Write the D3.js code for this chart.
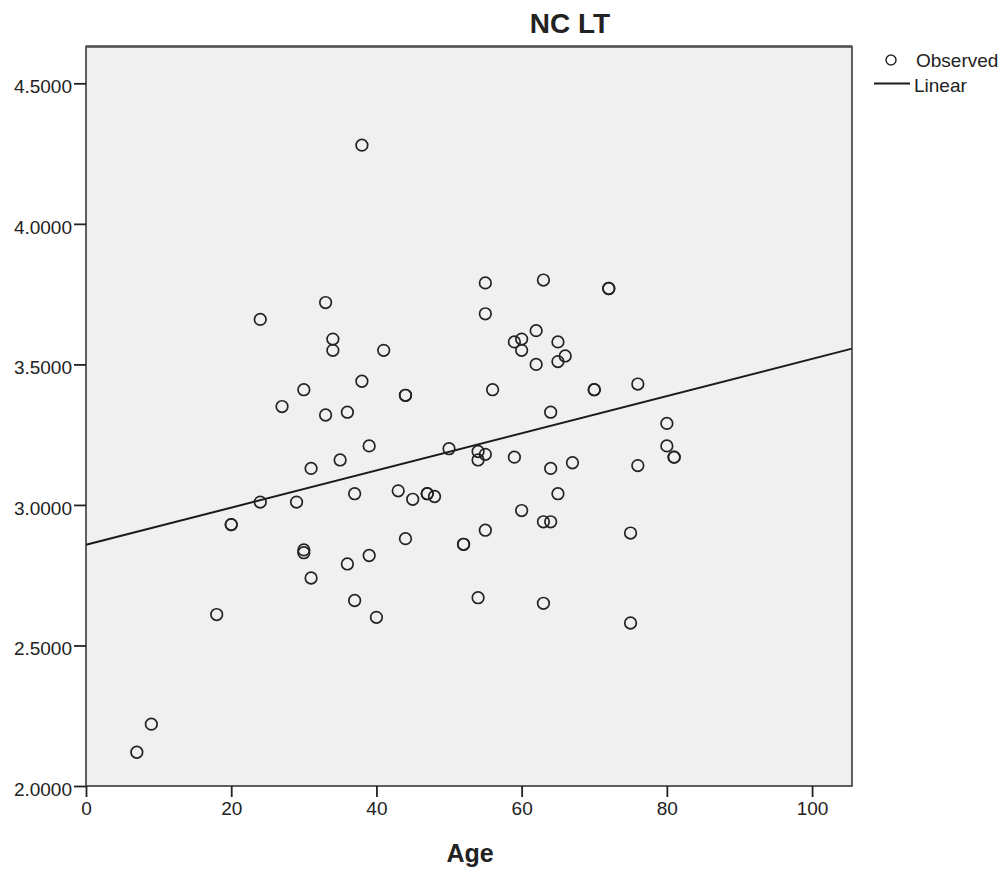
<!DOCTYPE html>
<html>
<head>
<meta charset="utf-8">
<script src="https://cdn.jsdelivr.net/npm/d3@7"></script>
<style>
  html, body { margin: 0; padding: 0; background: #ffffff; }
  svg { display: block; }
  text { font-family: "Liberation Sans", Arial, sans-serif; fill: #222; }
</style>
</head>
<body>
<svg id="chart" width="1007" height="872"></svg>
<script>
// ---- Data ----
const ages = [7, 9, 18, 20, 20, 24, 24, 27, 29, 30, 30, 30, 31, 31, 33, 33, 34, 34, 35, 36, 36, 37, 37, 38, 38, 39, 39, 40, 41, 43, 44, 44, 44, 45, 47, 47, 48, 50, 52, 52, 54, 54, 54, 55, 55, 55, 55, 56, 59, 59, 60, 60, 60, 62, 62, 63, 63, 63, 64, 64, 64, 65, 65, 65, 66, 67, 70, 70, 72, 72, 75, 75, 76, 76, 80, 80, 81, 81];
const ncLT = [2.12, 2.22, 2.61, 2.93, 2.93, 3.66, 3.01, 3.35, 3.01, 3.41, 2.84, 2.83, 3.13, 2.74, 3.72, 3.32, 3.59, 3.55, 3.16, 3.33, 2.79, 3.04, 2.66, 4.28, 3.44, 3.21, 2.82, 2.60, 3.55, 3.05, 3.39, 3.39, 2.88, 3.02, 3.04, 3.04, 3.03, 3.20, 2.86, 2.86, 3.19, 3.16, 2.67, 3.79, 3.68, 3.18, 2.91, 3.41, 3.58, 3.17, 3.59, 3.55, 2.98, 3.62, 3.50, 3.80, 2.94, 2.65, 3.33, 3.13, 2.94, 3.58, 3.51, 3.04, 3.53, 3.15, 3.41, 3.41, 3.77, 3.77, 2.90, 2.58, 3.43, 3.14, 3.29, 3.21, 3.17, 3.17];
// Linear fit line endpoints
const fitX = [0, 105.5];
const fitY = [2.858, 3.556];
const xTicks = [0, 20, 40, 60, 80, 100];
const yTicks = [2.0, 2.5, 3.0, 3.5, 4.0, 4.5];
const xDomain = [0, 105.5];
const yDomain = [2.0, 4.631];
const titleText = "NC LT";
const xLabel = "Age";
const legendLabels = ["Observed", "Linear"];

// ---- Layout ----
const svg = d3.select("#chart");
const L = 86, R = 852, T = 46.5, B = 786;

const x = d3.scaleLinear().domain(xDomain).range([L, R]);
const y = d3.scaleLinear().domain(yDomain).range([B, T]);

// plot background
svg.append("rect")
  .attr("x", L).attr("y", T)
  .attr("width", R - L).attr("height", B - T)
  .attr("fill", "#f0f0f0")
  .attr("stroke", "none");

// regression line
svg.append("line")
  .attr("x1", x(fitX[0])).attr("y1", y(fitY[0]))
  .attr("x2", x(fitX[1])).attr("y2", y(fitY[1]))
  .attr("stroke", "#1a1a1a").attr("stroke-width", 2);

// points
svg.append("g").selectAll("circle")
  .data(ages.map((a, i) => [a, ncLT[i]]))
  .join("circle")
  .attr("cx", d => x(d[0]))
  .attr("cy", d => y(d[1]))
  .attr("r", 5.8)
  .attr("fill", "none")
  .attr("stroke", "#222")
  .attr("stroke-width", 1.7);

// frame
svg.append("rect")
  .attr("x", L).attr("y", T)
  .attr("width", R - L).attr("height", B - T)
  .attr("fill", "none")
  .attr("stroke", "#3a3a3a")
  .attr("stroke-width", 1.6);
svg.append("line")
  .attr("x1", L).attr("x2", R).attr("y1", T).attr("y2", T)
  .attr("stroke", "#555").attr("stroke-width", 2.4);

// axes
const xAxis = d3.axisBottom(x).tickValues(xTicks).tickFormat(d3.format("d"))
  .tickSize(11).tickPadding(5).tickSizeOuter(0);
const gx = svg.append("g").attr("transform", `translate(0,${B})`).call(xAxis);
gx.select(".domain").remove();
gx.selectAll(".tick line").attr("stroke", "#222").attr("stroke-width", 1.8);
gx.selectAll(".tick text").attr("font-size", 19).attr("fill", "#222")
  .style("font-family", '"Liberation Sans", Arial, sans-serif');

const yAxis = d3.axisLeft(y).tickValues(yTicks).tickFormat(d3.format(".4f"))
  .tickSize(12).tickPadding(2).tickSizeOuter(0);
const gy = svg.append("g").attr("transform", `translate(${L},0)`).call(yAxis);
gy.select(".domain").remove();
gy.selectAll(".tick line").attr("stroke", "#222").attr("stroke-width", 1.8);
gy.selectAll(".tick text").attr("font-size", 19).attr("fill", "#222").attr("dy", "0.5em")
  .style("font-family", '"Liberation Sans", Arial, sans-serif');

// title
svg.append("text")
  .attr("x", 570).attr("y", 33)
  .attr("text-anchor", "middle")
  .attr("font-size", 28).attr("font-weight", "bold")
  .attr("fill", "#111")
  .text(titleText);

// x label
svg.append("text")
  .attr("x", (L + R) / 2 + 1).attr("y", 862)
  .attr("text-anchor", "middle")
  .attr("font-size", 25).attr("font-weight", "bold")
  .attr("fill", "#111")
  .text(xLabel);

// legend
const lg = svg.append("g");
lg.append("circle").attr("cx", 891).attr("cy", 60).attr("r", 5)
  .attr("fill", "none").attr("stroke", "#2a2a2a").attr("stroke-width", 1.5);
lg.append("text").attr("x", 916).attr("y", 67).attr("font-size", 19).text(legendLabels[0]);
lg.append("line").attr("x1", 874).attr("x2", 910).attr("y1", 83.5).attr("y2", 83.5)
  .attr("stroke", "#1a1a1a").attr("stroke-width", 2);
lg.append("text").attr("x", 914).attr("y", 92).attr("font-size", 19).text(legendLabels[1]);
</script>
</body>
</html>
